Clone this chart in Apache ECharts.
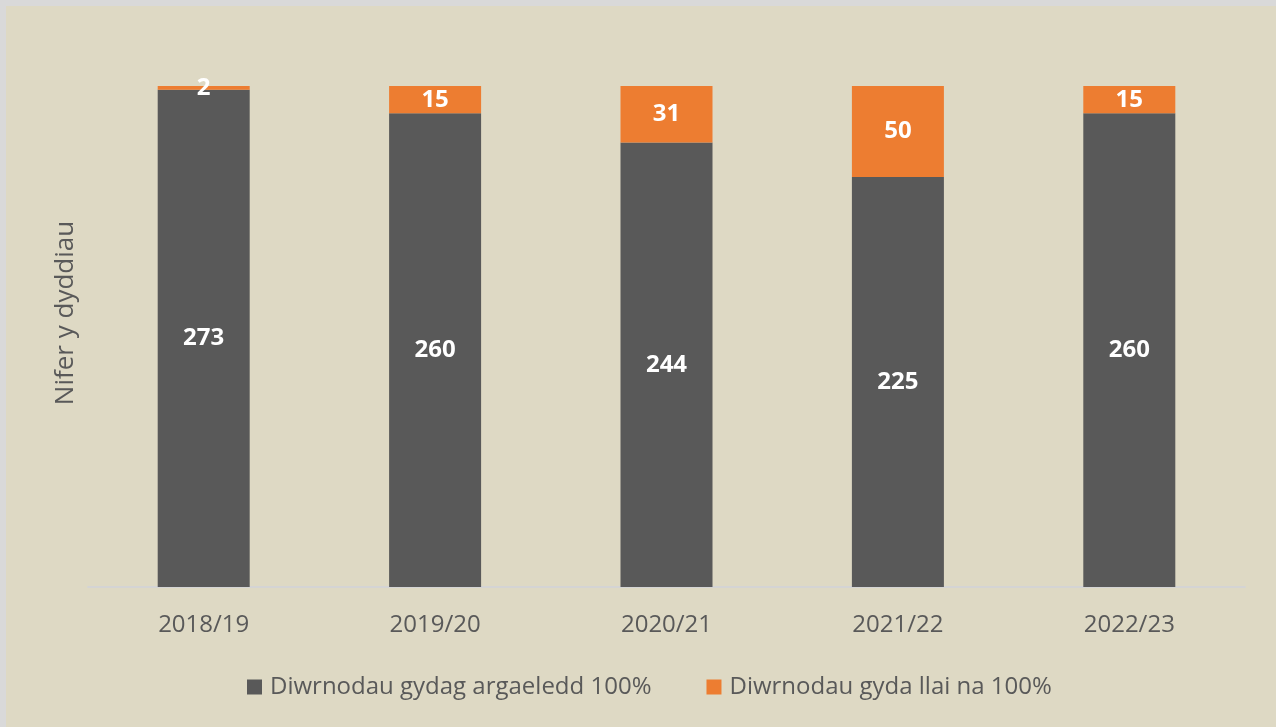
<!DOCTYPE html>
<html>
<head>
<meta charset="utf-8">
<script src="https://cdn.jsdelivr.net/npm/echarts@6/dist/echarts.min.js"></script>
<style>
  html, body { margin: 0; padding: 0; background: #d9d9d9; }
  #chart {
    position: absolute;
    left: 6px;
    top: 6px;
    width: 1270px;
    height: 721px;
    background: #ded9c4;
  }
</style>
</head>
<body>
<div id="chart"></div>
<script>
const years = ['2018/19', '2019/20', '2020/21', '2021/22', '2022/23'];
const fullDays = [273, 260, 244, 225, 260];
const partialDays = [2, 15, 31, 50, 15];
const seriesNames = ['Diwrnodau gydag argaeledd 100%', 'Diwrnodau gyda llai na 100%'];
const yTitle = 'Nifer y dyddiau';

const font = '"Open Sans", "Noto Sans", sans-serif';
const textGrey = '#595959';

const chart = echarts.init(document.getElementById('chart'));

const labelStyle = {
  show: true,
  position: 'inside',
  color: '#ffffff',
  fontFamily: font,
  fontWeight: 'bold',
  fontSize: 24
};

chart.setOption({
  backgroundColor: '#ded9c4',
  animation: false,
  textStyle: { fontFamily: font },
  grid: { left: 82, right: 31, top: 80, bottom: 140 },
  legend: {
    data: seriesNames,
    left: 236,
    top: 664,
    icon: 'rect',
    itemWidth: 15,
    itemHeight: 15,
    itemGap: 55,
    textStyle: { color: textGrey, fontSize: 24, fontFamily: font, padding: [0, 0, 0, 3] }
  },
  xAxis: {
    type: 'category',
    data: years,
    axisLine: { lineStyle: { color: '#d4d4d4', width: 2 } },
    axisTick: { show: false },
    axisLabel: { color: textGrey, fontSize: 24, fontFamily: font, margin: 26 }
  },
  yAxis: {
    type: 'value',
    min: 0,
    max: 275,
    axisLine: { show: false },
    axisTick: { show: false },
    axisLabel: { show: false },
    splitLine: { show: false },
    name: yTitle,
    nameLocation: 'middle',
    nameGap: 9,
    nameTextStyle: {
      color: textGrey,
      fontSize: 26,
      fontFamily: font,
      padding: [0, 0, 0, 47]
    }
  },
  series: [
    {
      name: seriesNames[0],
      type: 'bar',
      stack: 'days',
      barWidth: 92,
      data: fullDays,
      itemStyle: { color: '#595959' },
      label: labelStyle
    },
    {
      name: seriesNames[1],
      type: 'bar',
      stack: 'days',
      barWidth: 92,
      data: partialDays,
      itemStyle: { color: '#ed7d31' },
      label: labelStyle
    }
  ]
});
</script>
</body>
</html>
